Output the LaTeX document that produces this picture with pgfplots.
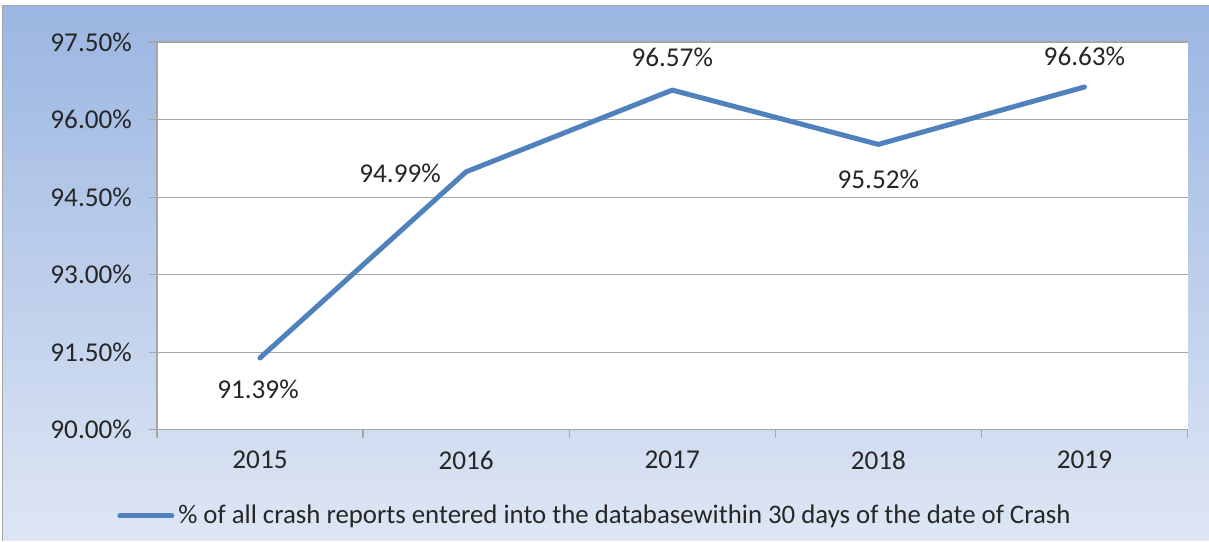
\documentclass[border=0pt]{standalone}
\usepackage{pgfplots}
\pgfplotsset{compat=1.18}
\usepackage{fontspec}
\setmainfont{Carlito}
\definecolor{bgtop}{RGB}{155,182,226}
\definecolor{bgbot}{RGB}{222,230,244}
\definecolor{serie}{RGB}{79,129,189}
\definecolor{gridc}{RGB}{166,166,166}
\definecolor{txt}{RGB}{38,38,38}
\pgfkeys{/pgf/number format/assume math mode=true}

\pgfplotstableread{
x y dx dy
0 91.39 -1 -15.5
1 94.99 -33 -1
2 96.57 0 16.5
3 95.52 0 -17.5
4 96.63 0 15.5
}\data

\begin{document}
\begin{tikzpicture}
\fill[white] (0,0) rectangle (604.5pt,270.5pt);
\shade[top color=bgtop,bottom color=bgbot] (1.5pt,0pt) rectangle (604.5pt,267.5pt);
\draw[gray!70,line width=0.5pt] (1.5pt,0pt) -- (1.5pt,267.5pt) -- (604.5pt,267.5pt);
\begin{axis}[
  at={(78.5pt,55.5pt)}, anchor=south west,
  scale only axis, width=515.5pt, height=194pt,
  xmin=-0.5, xmax=4.5, ymin=90, ymax=97.5,
  clip=false,
  axis background/.style={fill=white},
  axis x line*=bottom, axis y line*=left,
  axis line style={gridc, line width=0.6pt},
  tick align=outside,
  major tick length=4pt,
  tick style={gridc, line width=0.6pt},
  xtick={-0.5,0.5,1.5,2.5,3.5,4.5}, xticklabels={},
  extra x ticks={0,1,2,3,4},
  extra x tick labels={2015,2016,2017,2018,2019},
  extra x tick style={major tick length=0pt, xticklabel style={yshift=-7pt}},
  ytick={90,91.5,93,94.5,96,97.5},
  yticklabel={\pgfmathprintnumber[fixed,fixed zerofill,precision=2]{\tick}\%},
  yticklabel style={xshift=-5pt},
  ymajorgrids,
  grid style={gridc, line width=0.6pt},
  tick label style={font=\fontsize{13.6}{16}\selectfont, text=txt},
  legend style={at={(0.426,-0.222)}, anchor=center, draw=none, fill=none,
    font=\fontsize{13.4}{16}\selectfont, text=txt},
  legend image code/.code={\draw[serie, line width=2.5pt, line cap=round] (0pt,0pt) -- (26pt,0pt);},
]
\addplot[serie, line width=2.5pt, line cap=round, line join=round,
  visualization depends on={\thisrow{dx} \as \dx},
  visualization depends on={\thisrow{dy} \as \dy},
  nodes near coords={\pgfmathprintnumber[fixed,fixed zerofill,precision=2]{\pgfplotspointmeta}\%},
  nodes near coords style={anchor=center, xshift=\dx pt, yshift=\dy pt,
    font=\fontsize{13.6}{16}\selectfont, text=txt},
] table[x=x,y=y]{\data};
\addlegendentry{\% of all crash reports entered into the databasewithin 30 days of the date of Crash}
\end{axis}
\end{tikzpicture}
\end{document}
